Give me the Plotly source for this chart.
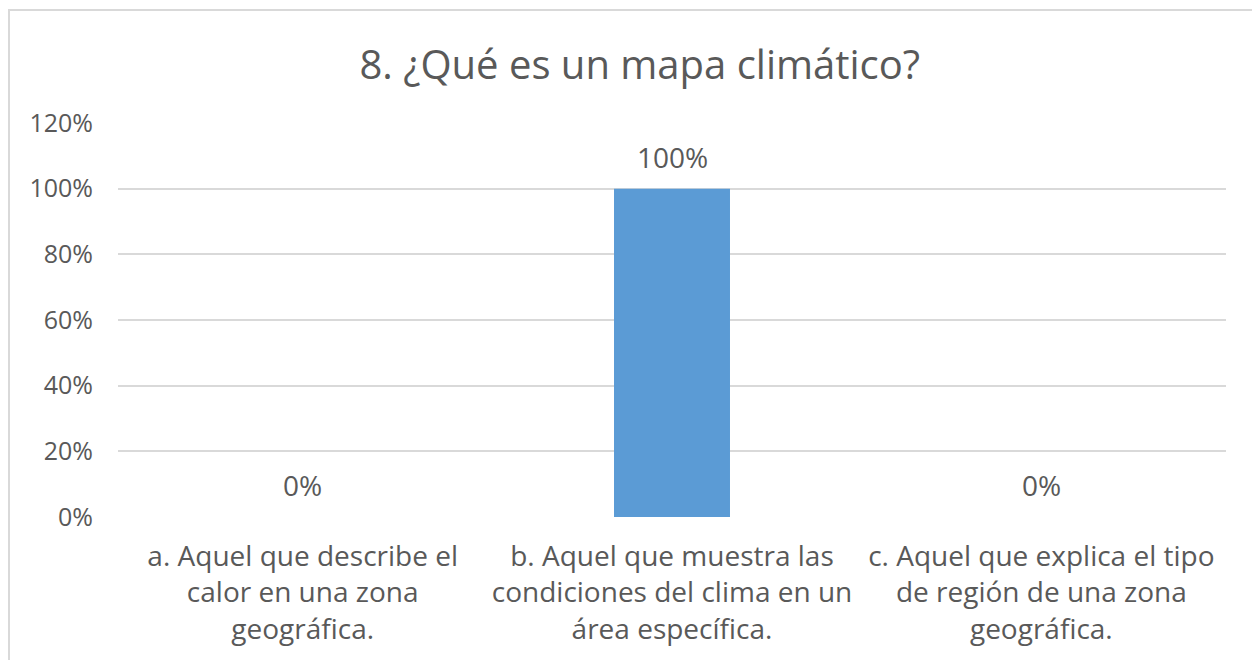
import plotly.graph_objects as go

# Survey question and answer options
title_text = "8. ¿Qué es un mapa climático?"
categories = [
    "a. Aquel que describe el<br>calor en una zona<br>geográfica.",
    "b. Aquel que muestra las<br>condiciones del clima en un<br>área específica.",
    "c. Aquel que explica el tipo<br>de región de una zona<br>geográfica.",
]
shares = [0.0, 1.0, 0.0]
tick_values = [0, 0.2, 0.4, 0.6, 0.8, 1.0, 1.2]
tick_labels = ["0%", "20%", "40%", "60%", "80%", "100%", "120%"]

FONT = "Open Sans"
TEXT = "#595959"
GRID = "#D9D9D9"
BAR = "#5B9BD5"

W, H = 1252, 660
L, R, T, B = 118, 26, 123, 143

fig = go.Figure()
fig.add_trace(go.Bar(
    x=categories,
    y=shares,
    marker=dict(color=BAR, line=dict(width=0)),
    hoverinfo="skip",
))

# Value labels above each bar
for cat, v in zip(categories, shares):
    fig.add_annotation(
        x=cat, y=v, xref="x", yref="y",
        text=f"{v:.0%}", showarrow=False,
        yanchor="bottom", yshift=11,
        font=dict(family=FONT, size=28, color=TEXT),
    )

pw, ph = W - L - R, H - T - B
# Outer chart frame (extends past the right/bottom edges)
fig.add_shape(
    type="rect", xref="paper", yref="paper",
    x0=(9 - L) / pw, x1=(W + 20 - L) / pw,
    y0=-(H + 20 - T - ph) / ph, y1=1 + (T - 10) / ph,
    line=dict(color=GRID, width=2), fillcolor="rgba(0,0,0,0)", layer="below",
)

fig.update_layout(
    width=W, height=H,
    margin=dict(l=L, r=R, t=T, b=B, autoexpand=False),
    paper_bgcolor="white", plot_bgcolor="white",
    bargap=0.686,
    showlegend=False,
    title=dict(
        text=title_text, x=0.511, xanchor="center", y=1 - 65 / H, yanchor="middle",
        font=dict(family=FONT, size=40, color=TEXT),
    ),
    font=dict(family=FONT, color=TEXT),
)
fig.update_xaxes(
    showgrid=False, zeroline=False, showline=False, ticks="",
    tickfont=dict(family=FONT, size=28, color=TEXT),
    ticklabelstandoff=20,
)
fig.update_yaxes(
    range=[0, 1.2], tickvals=tick_values, ticktext=tick_labels,
    showgrid=True, gridcolor=GRID, gridwidth=2,
    zeroline=False, showline=False, ticks="",
    tickfont=dict(family=FONT, size=25, color=TEXT),
    ticklabelstandoff=24,
)

fig.write_html("out.html")
